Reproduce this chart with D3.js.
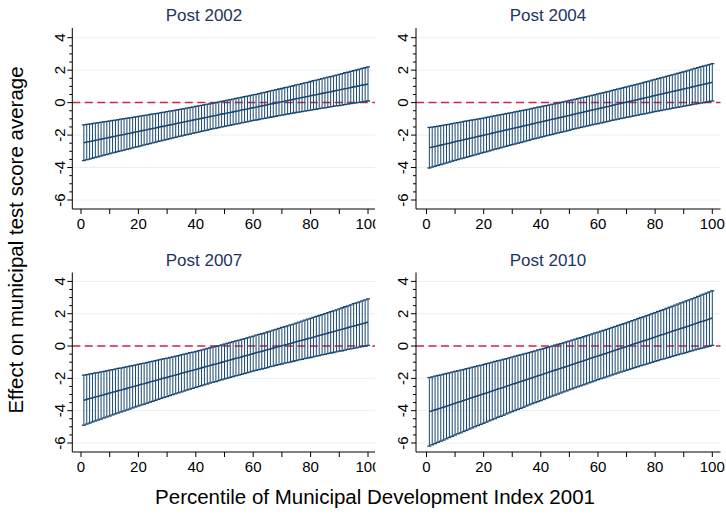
<!DOCTYPE html>
<html>
<head>
<meta charset="utf-8">
<script src="https://cdn.jsdelivr.net/npm/d3@7/dist/d3.min.js"></script>
<style>
  html, body { margin: 0; padding: 0; background: #fff; }
  svg { display: block; font-family: "Liberation Sans", Arial, Helvetica, sans-serif; }
</style>
</head>
<body>
<svg id="chart" width="726" height="514"></svg>
<script>
// Linear-prediction margins of the test-score effect by MDI percentile,
// one panel per post-reform period, with 95% confidence half-widths.
const panelTitles = ["Post 2002", "Post 2004", "Post 2007", "Post 2010"];
const percentiles = d3.range(1, 101);

const est2002 = [-2.47,-2.43,-2.40,-2.36,-2.32,-2.29,-2.25,-2.21,-2.18,-2.14,
  -2.10,-2.07,-2.03,-1.99,-1.96,-1.92,-1.89,-1.85,-1.81,-1.78,
  -1.74,-1.70,-1.67,-1.63,-1.59,-1.56,-1.52,-1.48,-1.45,-1.41,
  -1.37,-1.34,-1.30,-1.26,-1.23,-1.19,-1.15,-1.12,-1.08,-1.04,
  -1.01,-0.97,-0.93,-0.90,-0.86,-0.82,-0.79,-0.75,-0.71,-0.68,
  -0.64,-0.61,-0.57,-0.53,-0.50,-0.46,-0.42,-0.39,-0.35,-0.31,
  -0.28,-0.24,-0.20,-0.17,-0.13,-0.09,-0.06,-0.02,0.02,0.05,
  0.09,0.13,0.16,0.20,0.24,0.27,0.31,0.35,0.38,0.42,
  0.46,0.49,0.53,0.57,0.60,0.64,0.67,0.71,0.75,0.78,
  0.82,0.86,0.89,0.93,0.97,1.00,1.04,1.08,1.11,1.15];
const hw2002 = [1.10,1.09,1.08,1.07,1.06,1.05,1.04,1.03,1.02,1.01,
  1.00,0.99,0.98,0.98,0.97,0.96,0.95,0.94,0.93,0.93,
  0.92,0.91,0.90,0.90,0.89,0.88,0.87,0.87,0.86,0.86,
  0.85,0.84,0.84,0.83,0.83,0.82,0.82,0.82,0.81,0.81,
  0.81,0.80,0.80,0.80,0.79,0.79,0.79,0.79,0.79,0.79,
  0.79,0.79,0.79,0.79,0.79,0.79,0.79,0.79,0.79,0.79,
  0.79,0.80,0.80,0.80,0.81,0.81,0.81,0.82,0.82,0.82,
  0.83,0.83,0.84,0.84,0.85,0.86,0.86,0.87,0.87,0.88,
  0.89,0.90,0.90,0.91,0.92,0.93,0.93,0.94,0.95,0.96,
  0.97,0.98,0.98,0.99,1.00,1.01,1.02,1.03,1.04,1.05];

const est2004 = [-2.78,-2.74,-2.70,-2.66,-2.62,-2.58,-2.54,-2.50,-2.45,-2.41,
  -2.37,-2.33,-2.29,-2.25,-2.21,-2.17,-2.13,-2.09,-2.05,-2.01,
  -1.97,-1.93,-1.88,-1.84,-1.80,-1.76,-1.72,-1.68,-1.64,-1.60,
  -1.56,-1.52,-1.48,-1.44,-1.40,-1.36,-1.31,-1.27,-1.23,-1.19,
  -1.15,-1.11,-1.07,-1.03,-0.99,-0.95,-0.91,-0.87,-0.83,-0.79,
  -0.74,-0.70,-0.66,-0.62,-0.58,-0.54,-0.50,-0.46,-0.42,-0.38,
  -0.34,-0.30,-0.26,-0.22,-0.17,-0.13,-0.09,-0.05,-0.01,0.03,
  0.07,0.11,0.15,0.19,0.23,0.27,0.31,0.35,0.40,0.44,
  0.48,0.52,0.56,0.60,0.64,0.68,0.72,0.76,0.80,0.84,
  0.88,0.92,0.97,1.01,1.05,1.09,1.13,1.17,1.21,1.25];
const hw2004 = [1.25,1.23,1.22,1.21,1.20,1.19,1.18,1.17,1.16,1.15,
  1.14,1.13,1.13,1.12,1.11,1.10,1.09,1.08,1.07,1.06,
  1.06,1.05,1.04,1.03,1.03,1.02,1.01,1.01,1.00,0.99,
  0.99,0.98,0.98,0.97,0.96,0.96,0.95,0.95,0.95,0.94,
  0.94,0.93,0.93,0.93,0.92,0.92,0.92,0.92,0.92,0.92,
  0.91,0.91,0.91,0.91,0.91,0.91,0.91,0.91,0.91,0.92,
  0.92,0.92,0.92,0.92,0.92,0.93,0.93,0.93,0.94,0.94,
  0.95,0.95,0.95,0.96,0.96,0.97,0.98,0.98,0.99,0.99,
  1.00,1.01,1.01,1.02,1.03,1.03,1.04,1.05,1.06,1.06,
  1.07,1.08,1.09,1.10,1.11,1.12,1.13,1.13,1.14,1.15];

const est2007 = [-3.35,-3.30,-3.25,-3.20,-3.15,-3.11,-3.06,-3.01,-2.96,-2.91,
  -2.86,-2.81,-2.76,-2.72,-2.67,-2.62,-2.57,-2.52,-2.47,-2.42,
  -2.37,-2.33,-2.28,-2.23,-2.18,-2.13,-2.08,-2.03,-1.98,-1.94,
  -1.89,-1.84,-1.79,-1.74,-1.69,-1.64,-1.59,-1.54,-1.50,-1.45,
  -1.40,-1.35,-1.30,-1.25,-1.20,-1.15,-1.11,-1.06,-1.01,-0.96,
  -0.91,-0.86,-0.81,-0.76,-0.72,-0.67,-0.62,-0.57,-0.52,-0.47,
  -0.42,-0.37,-0.33,-0.28,-0.23,-0.18,-0.13,-0.08,-0.03,0.02,
  0.07,0.11,0.16,0.21,0.26,0.31,0.36,0.41,0.46,0.50,
  0.55,0.60,0.65,0.70,0.75,0.80,0.85,0.89,0.94,0.99,
  1.04,1.09,1.14,1.19,1.24,1.28,1.33,1.38,1.43,1.48];
const hw2007 = [1.55,1.53,1.52,1.50,1.49,1.47,1.46,1.44,1.43,1.42,
  1.40,1.39,1.38,1.36,1.35,1.34,1.33,1.31,1.30,1.29,
  1.28,1.27,1.26,1.25,1.24,1.23,1.22,1.21,1.20,1.19,
  1.18,1.17,1.16,1.15,1.15,1.14,1.13,1.13,1.12,1.11,
  1.11,1.10,1.10,1.10,1.09,1.09,1.09,1.08,1.08,1.08,
  1.08,1.08,1.08,1.08,1.08,1.08,1.08,1.08,1.08,1.08,
  1.09,1.09,1.09,1.10,1.10,1.10,1.11,1.11,1.12,1.13,
  1.13,1.14,1.15,1.15,1.16,1.17,1.18,1.19,1.20,1.21,
  1.22,1.23,1.24,1.25,1.26,1.27,1.28,1.29,1.30,1.31,
  1.33,1.34,1.35,1.36,1.38,1.39,1.40,1.42,1.43,1.44];

const est2010 = [-4.07,-4.01,-3.95,-3.89,-3.84,-3.78,-3.72,-3.66,-3.60,-3.54,
  -3.48,-3.43,-3.37,-3.31,-3.25,-3.19,-3.13,-3.07,-3.02,-2.96,
  -2.90,-2.84,-2.78,-2.72,-2.66,-2.61,-2.55,-2.49,-2.43,-2.37,
  -2.31,-2.25,-2.20,-2.14,-2.08,-2.02,-1.96,-1.90,-1.84,-1.79,
  -1.73,-1.67,-1.61,-1.55,-1.49,-1.43,-1.38,-1.32,-1.26,-1.20,
  -1.14,-1.08,-1.02,-0.97,-0.91,-0.85,-0.79,-0.73,-0.67,-0.61,
  -0.55,-0.50,-0.44,-0.38,-0.32,-0.26,-0.20,-0.14,-0.09,-0.03,
  0.03,0.09,0.15,0.21,0.27,0.32,0.38,0.44,0.50,0.56,
  0.62,0.68,0.73,0.79,0.85,0.91,0.97,1.03,1.09,1.14,
  1.20,1.26,1.32,1.38,1.44,1.50,1.55,1.61,1.67,1.73];
const hw2010 = [2.12,2.10,2.09,2.07,2.05,2.04,2.02,2.00,1.99,1.97,
  1.95,1.94,1.92,1.91,1.89,1.88,1.86,1.85,1.83,1.82,
  1.81,1.79,1.78,1.77,1.75,1.74,1.73,1.71,1.70,1.69,
  1.68,1.67,1.66,1.65,1.63,1.62,1.61,1.60,1.60,1.59,
  1.58,1.57,1.56,1.55,1.55,1.54,1.53,1.52,1.52,1.51,
  1.51,1.50,1.50,1.49,1.49,1.49,1.48,1.48,1.48,1.47,
  1.47,1.47,1.47,1.47,1.47,1.47,1.47,1.47,1.47,1.47,
  1.48,1.48,1.48,1.49,1.49,1.49,1.50,1.50,1.51,1.51,
  1.52,1.52,1.53,1.54,1.55,1.55,1.56,1.57,1.58,1.59,
  1.60,1.60,1.61,1.62,1.63,1.65,1.66,1.67,1.68,1.69];

const xTicks = [0, 10, 20, 30, 40, 50, 60, 70, 80, 90, 100];
const xTickLabels = [0, 20, 40, 60, 80, 100];
const yTicks = [-6, -4, -2, 0, 2, 4];
const yMinorTicks = [-5.5, -5, -4.5, -3.5, -3, -2.5, -1.5, -1, -0.5, 0.5, 1, 1.5, 2.5, 3, 3.5];

const yTitle = "Effect on municipal test score average";
const xTitle = "Percentile of Municipal Development Index 2001";

const estimates = [est2002, est2004, est2007, est2010];
const halfWidths = [hw2002, hw2004, hw2007, hw2010];

// ---- layout ----
const W = 726, H = 514;
const navy = "#1a476f";
const refRed = "#d2234d";
const gridCol = "#e8f0f2";
const tickFont = 15;

const cols = [
  { axisX: 72.3, x0: 81,    x100: 368,   right: 375,   clipL: 0,   clipR: 375.5, titleX: 204, labX: 64.5 },
  { axisX: 416,  x0: 426.5, x100: 712.3, right: 720.5, clipL: 376, clipR: 726,   titleX: 548, labX: 408 }
];
const rows = [
  { top: 28,    bottom: 209, y4: 37.7,  yM6: 200,   titleY: 20.7, labY: 228.5 },
  { top: 272.5, bottom: 452, y4: 281.4, yM6: 443,   titleY: 266,  labY: 472 }
];

const svg = d3.select("#chart");
svg.append("rect").attr("width", W).attr("height", H).attr("fill", "#fff");
const defs = svg.append("defs");

panelTitles.forEach((title, p) => {
  const c = cols[p % 2], r = rows[Math.floor(p / 2)];
  const x = d3.scaleLinear().domain([0, 100]).range([c.x0, c.x100]);
  const y = d3.scaleLinear().domain([-6, 4]).range([r.yM6, r.y4]);

  const clipId = "clip" + p;
  defs.append("clipPath").attr("id", clipId)
    .append("rect")
    .attr("x", c.clipL).attr("y", r.top - 30)
    .attr("width", c.clipR - c.clipL).attr("height", r.bottom - r.top + 70);

  const g = svg.append("g").attr("clip-path", `url(#${clipId})`);

  // horizontal grid
  g.append("g").selectAll("line").data(yTicks).join("line")
    .attr("x1", c.axisX).attr("x2", c.right)
    .attr("y1", d => y(d)).attr("y2", d => y(d))
    .attr("stroke", gridCol).attr("stroke-width", 1);

  // reference line at zero
  g.append("line")
    .attr("x1", c.axisX).attr("x2", c.right)
    .attr("y1", y(0)).attr("y2", y(0))
    .attr("stroke", refRed).attr("stroke-width", 1.5)
    .attr("stroke-dasharray", "8,4.5");

  // confidence intervals (range with caps)
  const est = estimates[p], hw = halfWidths[p];
  const ci = percentiles.map((pc, i) => ({
    pc, lo: est[i] - hw[i], hi: est[i] + hw[i], est: est[i]
  }));
  const capHalf = 2;
  const caps = g.append("g").attr("stroke", navy).attr("fill", "none");
  caps.selectAll("line.v").data(ci).join("line").attr("class", "v")
    .attr("x1", d => x(d.pc)).attr("x2", d => x(d.pc))
    .attr("y1", d => y(d.lo)).attr("y2", d => y(d.hi))
    .attr("stroke-width", 1);
  caps.selectAll("line.ch").data(ci).join("line").attr("class", "ch")
    .attr("x1", d => x(d.pc) - capHalf).attr("x2", d => x(d.pc) + capHalf)
    .attr("y1", d => y(d.hi)).attr("y2", d => y(d.hi))
    .attr("stroke-width", 1.3);
  caps.selectAll("line.cl").data(ci).join("line").attr("class", "cl")
    .attr("x1", d => x(d.pc) - capHalf).attr("x2", d => x(d.pc) + capHalf)
    .attr("y1", d => y(d.lo)).attr("y2", d => y(d.lo))
    .attr("stroke-width", 1.3);

  // point estimates
  g.append("path").datum(ci)
    .attr("fill", "none").attr("stroke", navy).attr("stroke-width", 1.6)
    .attr("d", d3.line().x(d => x(d.pc)).y(d => y(d.est)));

  // axes lines
  g.append("line").attr("x1", c.axisX).attr("x2", c.axisX)
    .attr("y1", r.top).attr("y2", r.bottom).attr("stroke", "#000").attr("stroke-width", 1);
  g.append("line").attr("x1", c.axisX).attr("x2", c.right)
    .attr("y1", r.bottom).attr("y2", r.bottom).attr("stroke", "#000").attr("stroke-width", 1);

  // y ticks
  g.append("g").selectAll("line").data(yTicks).join("line")
    .attr("x1", c.axisX - 5).attr("x2", c.axisX)
    .attr("y1", d => y(d)).attr("y2", d => y(d))
    .attr("stroke", "#000").attr("stroke-width", 1);
  g.append("g").selectAll("line").data(yMinorTicks).join("line")
    .attr("x1", c.axisX - 3).attr("x2", c.axisX)
    .attr("y1", d => y(d)).attr("y2", d => y(d))
    .attr("stroke", "#000").attr("stroke-width", 1);
  g.append("g").selectAll("text").data(yTicks).join("text")
    .attr("transform", d => `translate(${c.labX},${y(d)}) rotate(-90)`)
    .attr("text-anchor", "middle")
    .attr("font-size", tickFont).attr("fill", "#000")
    .text(d => d);

  // x ticks
  g.append("g").selectAll("line").data(xTicks).join("line")
    .attr("x1", d => x(d)).attr("x2", d => x(d))
    .attr("y1", r.bottom).attr("y2", r.bottom + 5)
    .attr("stroke", "#000").attr("stroke-width", 1);
  g.append("g").selectAll("text").data(xTickLabels).join("text")
    .attr("x", d => x(d)).attr("y", r.labY)
    .attr("text-anchor", "middle")
    .attr("font-size", tickFont).attr("fill", "#000")
    .text(d => d);

  // panel title
  svg.append("text")
    .attr("x", c.titleX).attr("y", r.titleY)
    .attr("text-anchor", "middle")
    .attr("font-size", 17).attr("fill", "#1e3461")
    .text(title);
});

// shared axis titles
svg.append("text")
  .attr("transform", "translate(23,240) rotate(-90)")
  .attr("text-anchor", "middle")
  .attr("font-size", 20.5).attr("fill", "#000")
  .text(yTitle);

svg.append("text")
  .attr("x", 375).attr("y", 503.5)
  .attr("text-anchor", "middle")
  .attr("font-size", 20.5).attr("fill", "#000")
  .text(xTitle);
</script>
</body>
</html>
